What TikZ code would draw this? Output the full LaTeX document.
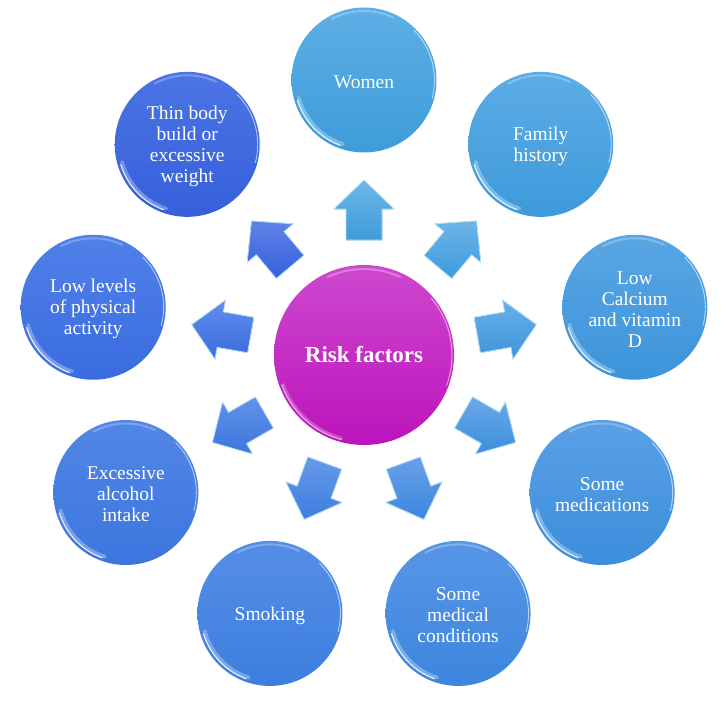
\documentclass[tikz,border=0pt]{standalone}
\usepackage{fontspec}
\setmainfont{Liberation Serif}
\usetikzlibrary{calc}
\definecolor{hubtop}{HTML}{CE48CE}
\definecolor{hubbot}{HTML}{BC14BC}
\definecolor{aT}{HTML}{5EAFE5}\definecolor{aB}{HTML}{3D9CDA}
\definecolor{bT}{HTML}{5DACE5}\definecolor{bB}{HTML}{3D9ADA}
\definecolor{cT}{HTML}{5AA6E4}\definecolor{cB}{HTML}{3C94DA}
\definecolor{dT}{HTML}{5AA0E5}\definecolor{dB}{HTML}{3C8EDC}
\definecolor{eT}{HTML}{5896E6}\definecolor{eB}{HTML}{3C86DE}
\definecolor{fT}{HTML}{568EE6}\definecolor{fB}{HTML}{3C7EDE}
\definecolor{gT}{HTML}{5286E6}\definecolor{gB}{HTML}{3C76DE}
\definecolor{hT}{HTML}{5080E8}\definecolor{hB}{HTML}{3A6CE0}
\definecolor{iT}{HTML}{4C74E4}\definecolor{iB}{HTML}{3560DA}
\definecolor{bevel}{HTML}{B4E2FA}
\begin{document}
\begin{tikzpicture}[x=1pt,y=1pt,
  bubble/.style={circle, minimum size=145pt, inner sep=0pt, text=white, align=center,
    font=\fontsize{19.5}{21}\selectfont},
  hub/.style={circle, minimum size=180pt, inner sep=0pt, text=white,
    font=\fontsize{23}{26}\selectfont\bfseries, top color=hubtop, bottom color=hubbot},
  gloss/.style={white, line cap=round},
  blockarrow/.style={draw=bevel, line width=0.8pt, line join=miter},
]
\useasboundingbox (0,0) rectangle (724,-701);
\begin{scope}[shift={(364,-355)}]
  \node[hub] (hub) at (0,0) {Risk factors};
  \draw[gloss, draw=hubtop!40!white, line width=3pt, opacity=0.35] (200:86) arc (200:255:86);
  \draw[gloss, draw=hubtop!40!white, line width=1.2pt, opacity=0.9] (200:87.5) arc (200:255:87.5);
  \draw[gloss, draw=hubtop!40!white, line width=1pt, opacity=0.8] (-20:88) arc (-20:40:88);
  \draw[gloss, opacity=0.3, line width=2pt] (65:86) arc (65:115:86);
  \foreach \n/\a/\ct/\cb/\txt in {
    1/90/aT/aB/{Women},
    2/50/bT/bB/{Family\\history},
    3/10/cT/cB/{Low\\Calcium\\and vitamin\\D},
    4/-30/dT/dB/{Some\\medications},
    5/-70/eT/eB/{Some\\medical\\conditions},
    6/-110/fT/fB/{Smoking},
    7/-150/gT/gB/{Excessive\\alcohol\\intake},
    8/170/hT/hB/{Low levels\\of physical\\activity},
    9/130/iT/iB/{Thin body\\build or\\excessive\\weight}}
  {
    \node[bubble, top color=\ct, bottom color=\cb] (o\n) at (\a:275) {};
    \node[text=white, align=center, font=\fontsize{19.5}{21}\selectfont] (t\n)
      at ([yshift=-2pt]o\n.center) {\txt};
    \draw[gloss, line width=3.5pt, opacity=0.3] ($(o\n.center)+(195:67.5)$) arc (195:252:67.5);
    \draw[gloss, line width=1.2pt, opacity=0.85] ($(o\n.center)+(197:69.5)$) arc (197:250:69.5);
    \draw[gloss, line width=0.9pt, opacity=0.6] ($(o\n.center)+(-15:70.5)$) arc (-15:45:70.5);
    \draw[gloss, line width=2pt, opacity=0.25] ($(o\n.center)+(65:69)$) arc (65:118:69);
    \filldraw[blockarrow, top color=\ct!90!white, bottom color=\cb]
      ([rotate=\a]115,18) -- ([rotate=\a]146,18) -- ([rotate=\a]146,30) --
      ([rotate=\a]175,0) -- ([rotate=\a]146,-30) -- ([rotate=\a]146,-18) --
      ([rotate=\a]115,-18) -- cycle;
  }
\end{scope}
\end{tikzpicture}
\end{document}
